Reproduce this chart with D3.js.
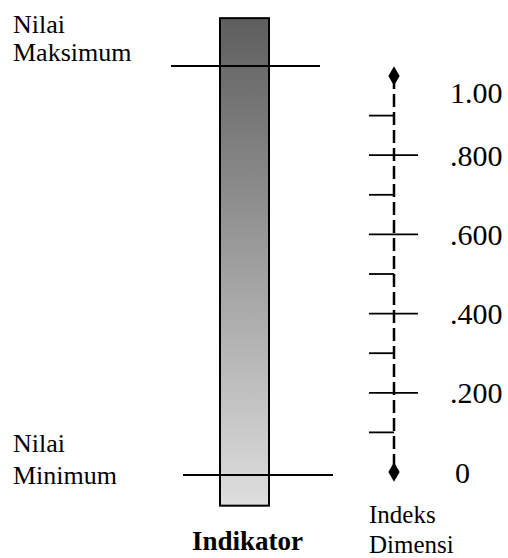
<!DOCTYPE html>
<html>
<head>
<meta charset="utf-8">
<script src="https://cdn.jsdelivr.net/npm/d3@7"></script>
<style>
  body { margin: 0; background: #fff; }
  text { font-family: "Liberation Serif", "Times New Roman", serif; fill: #000; }
</style>
</head>
<body>
<div id="chart"></div>
<script>
// index scale values
var majorTicks = [0, 0.2, 0.4, 0.6, 0.8, 1];
var majorLabels = ["0", ".200", ".400", ".600", ".800", "1.00"];
var minorTicks = [0.1, 0.3, 0.5, 0.7, 0.9];

// indicator: bar extent and the max / min reference lines
var barExtent = [-0.075, 1.117];
var refLines = [0, 1];
var refNames = [["Nilai", "Minimum"], ["Nilai", "Maksimum"]];

var width = 508, height = 558;

var svg = d3.select("#chart").append("svg")
    .attr("width", width)
    .attr("height", height);

var defs = svg.append("defs");
var grad = defs.append("linearGradient")
    .attr("id", "barGrad")
    .attr("x1", 0).attr("y1", 0).attr("x2", 0).attr("y2", 1);
grad.append("stop").attr("offset", "0%").attr("stop-color", "#5e5e5e");
grad.append("stop").attr("offset", "100%").attr("stop-color", "#dedede");

// scales
var yIdx = d3.scaleLinear().domain([0, 1]).range([472, 76]);
var yInd = d3.scaleLinear().domain([0, 1]).range([475, 66]);

// ---- indicator bar ----
var barX = 220, barW = 49;
svg.append("rect")
    .attr("x", barX)
    .attr("y", yInd(barExtent[1]))
    .attr("width", barW)
    .attr("height", yInd(barExtent[0]) - yInd(barExtent[1]))
    .attr("fill", "url(#barGrad)")
    .attr("stroke", "#000")
    .attr("stroke-width", 2);

svg.selectAll(".ref").data(refLines).enter().append("line")
    .attr("class", "ref")
    .attr("x1", function(d) { return d === 1 ? 171 : 183; })
    .attr("x2", function(d) { return d === 1 ? 320 : 333; })
    .attr("y1", function(d) { return yInd(d); })
    .attr("y2", function(d) { return yInd(d); })
    .attr("stroke", "#000")
    .attr("stroke-width", 1.8);

var refText = svg.selectAll(".refname").data(refLines).enter().append("text")
    .attr("class", "refname")
    .attr("font-size", 26);
refText.append("tspan")
    .attr("x", 13)
    .attr("y", function(d) { return d === 1 ? 33 : 452; })
    .text(function(d, i) { return refNames[i][0]; });
refText.append("tspan")
    .attr("x", 13)
    .attr("y", function(d) { return d === 1 ? 61 : 484; })
    .text(function(d, i) { return refNames[i][1]; });

svg.append("text")
    .attr("x", barX + barW / 2 + 3)
    .attr("y", 550)
    .attr("text-anchor", "middle")
    .attr("font-size", 27)
    .attr("font-weight", "bold")
    .text("Indikator");

// ---- index axis ----
var ax = 394;
svg.append("line")
    .attr("x1", ax).attr("x2", ax)
    .attr("y1", yIdx(1)).attr("y2", yIdx(0))
    .attr("stroke", "#000")
    .attr("stroke-width", 2.5)
    .attr("stroke-dasharray", "13,5");

svg.selectAll(".major").data(majorTicks.slice(1, -1)).enter().append("line")
    .attr("class", "major")
    .attr("x1", ax - 25).attr("x2", ax + 24)
    .attr("y1", function(d) { return yIdx(d); })
    .attr("y2", function(d) { return yIdx(d); })
    .attr("stroke", "#000")
    .attr("stroke-width", 1.8);

svg.selectAll(".minor").data(minorTicks).enter().append("line")
    .attr("class", "minor")
    .attr("x1", ax - 25).attr("x2", ax)
    .attr("y1", function(d) { return yIdx(d); })
    .attr("y2", function(d) { return yIdx(d); })
    .attr("stroke", "#000")
    .attr("stroke-width", 1.8);

svg.selectAll(".end").data([0, 1]).enter().append("path")
    .attr("class", "end")
    .attr("d", d3.symbol().type(d3.symbolDiamond).size(110))
    .attr("transform", function(d) { return "translate(" + ax + "," + yIdx(d) + ")"; })
    .attr("fill", "#000");

svg.selectAll(".tlabel").data(majorTicks).enter().append("text")
    .attr("class", "tlabel")
    .attr("x", function(d) { return d === 0 ? 455 : 450; })
    .attr("y", function(d) { return yIdx(d) + (d === 1 ? 16 : 0); })
    .attr("dy", "0.35em")
    .attr("font-size", 30)
    .text(function(d, i) { return majorLabels[i]; });

var idxText = svg.append("text").attr("font-size", 25);
idxText.append("tspan").attr("x", 369).attr("y", 523).text("Indeks");
idxText.append("tspan").attr("x", 369).attr("y", 553).text("Dimensi");
</script>
</body>
</html>
